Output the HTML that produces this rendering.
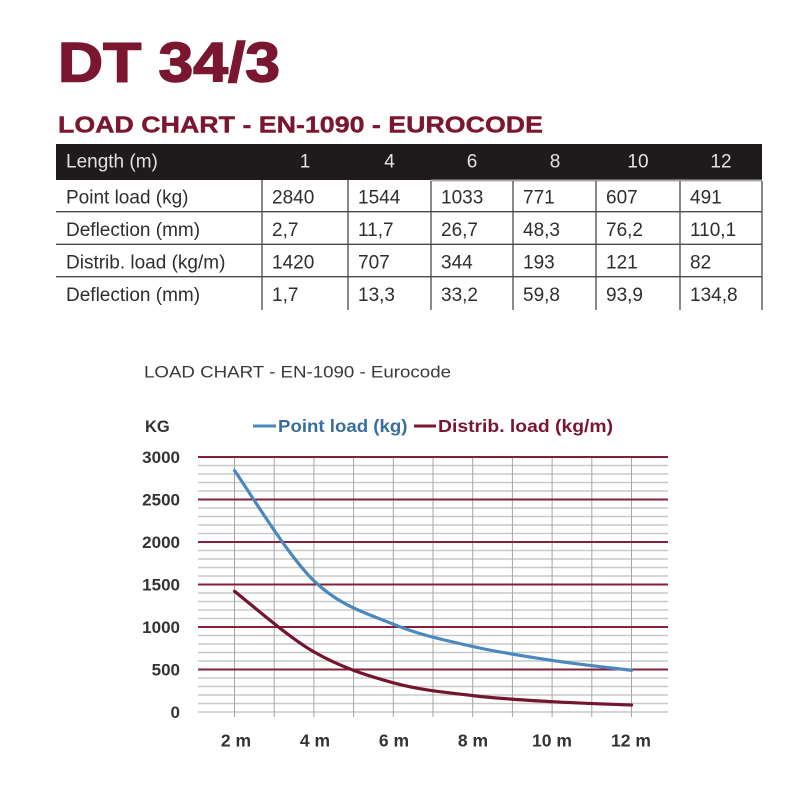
<!DOCTYPE html>
<html>
<head>
<meta charset="utf-8">
<style>
  html, body { margin: 0; padding: 0; background: #ffffff; }
  svg { display: block; }
</style>
</head>
<body>
<svg width="800" height="800" viewBox="0 0 800 800" xmlns="http://www.w3.org/2000/svg">
  <rect x="0" y="0" width="800" height="800" fill="#ffffff"/>

  <!-- Title -->
  <text x="58" y="81.5" font-family="Liberation Sans, sans-serif" font-weight="bold" font-size="56" fill="#7a1630" stroke="#7a1630" stroke-width="1.6" textLength="222" lengthAdjust="spacingAndGlyphs">DT 34/3</text>
  <text x="58" y="132.3" font-family="Liberation Sans, sans-serif" font-weight="bold" font-size="23.5" fill="#7a1630" stroke="#7a1630" stroke-width="0.4" textLength="485" lengthAdjust="spacingAndGlyphs">LOAD CHART - EN-1090 - EUROCODE</text>

  <!-- Table header -->
  <rect x="56" y="144" width="706" height="36" fill="#1f1a1b"/>
  <rect x="431" y="179.5" width="331" height="2" fill="#a8a8a8"/>
  <g font-family="Liberation Sans, sans-serif" font-size="19" fill="#e2e2e2">
    <text x="66" y="167.7">Length (m)</text>
    <text x="305" y="167.7" text-anchor="middle">1</text>
    <text x="389.5" y="167.7" text-anchor="middle">4</text>
    <text x="472" y="167.7" text-anchor="middle">6</text>
    <text x="555" y="167.7" text-anchor="middle">8</text>
    <text x="638" y="167.7" text-anchor="middle">10</text>
    <text x="721" y="167.7" text-anchor="middle">12</text>
  </g>

  <!-- Table lines -->
  <g stroke="#4a4a4a" stroke-width="1.3">
    <line x1="56" y1="211.7" x2="762" y2="211.7"/>
    <line x1="56" y1="244.3" x2="762" y2="244.3"/>
    <line x1="56" y1="276.7" x2="762" y2="276.7"/>
    <line x1="262" y1="180" x2="262" y2="310"/>
    <line x1="348" y1="180" x2="348" y2="310"/>
    <line x1="431" y1="181" x2="431" y2="310"/>
    <line x1="513" y1="181" x2="513" y2="310"/>
    <line x1="596" y1="181" x2="596" y2="310"/>
    <line x1="680" y1="181" x2="680" y2="310"/>
    <line x1="762" y1="181" x2="762" y2="310"/>
  </g>

  <!-- Table body -->
  <g font-family="Liberation Sans, sans-serif" font-size="19" fill="#2e2e2e">
    <text x="66" y="203.3">Point load (kg)</text>
    <text x="272" y="203.3">2840</text>
    <text x="358" y="203.3">1544</text>
    <text x="441" y="203.3">1033</text>
    <text x="523" y="203.3">771</text>
    <text x="606" y="203.3">607</text>
    <text x="690" y="203.3">491</text>

    <text x="66" y="236">Deflection (mm)</text>
    <text x="272" y="236">2,7</text>
    <text x="358" y="236">11,7</text>
    <text x="441" y="236">26,7</text>
    <text x="523" y="236">48,3</text>
    <text x="606" y="236">76,2</text>
    <text x="690" y="236">110,1</text>

    <text x="66" y="268.3">Distrib. load (kg/m)</text>
    <text x="272" y="268.3">1420</text>
    <text x="358" y="268.3">707</text>
    <text x="441" y="268.3">344</text>
    <text x="523" y="268.3">193</text>
    <text x="606" y="268.3">121</text>
    <text x="690" y="268.3">82</text>

    <text x="66" y="301">Deflection (mm)</text>
    <text x="272" y="301">1,7</text>
    <text x="358" y="301">13,3</text>
    <text x="441" y="301">33,2</text>
    <text x="523" y="301">59,8</text>
    <text x="606" y="301">93,9</text>
    <text x="690" y="301">134,8</text>
  </g>

  <!-- Chart title -->
  <text x="144" y="377.3" font-family="Liberation Sans, sans-serif" font-size="17" fill="#3a3a3a" textLength="307" lengthAdjust="spacingAndGlyphs">LOAD CHART - EN-1090 - Eurocode</text>

  <!-- KG and legend -->
  <text x="145" y="432" font-family="Liberation Sans, sans-serif" font-weight="bold" font-size="16.5" fill="#333333">KG</text>
  <line x1="253" y1="426" x2="276" y2="426" stroke="#4a88bd" stroke-width="3"/>
  <text x="278" y="432" font-family="Liberation Sans, sans-serif" font-weight="bold" font-size="17.5" fill="#3a6d9e" textLength="129.5" lengthAdjust="spacingAndGlyphs">Point load (kg)</text>
  <line x1="414" y1="426" x2="436" y2="426" stroke="#7a1630" stroke-width="3"/>
  <text x="438" y="432" font-family="Liberation Sans, sans-serif" font-weight="bold" font-size="17.5" fill="#7a1630" textLength="175" lengthAdjust="spacingAndGlyphs">Distrib. load (kg/m)</text>

  <!-- Minor gridlines -->
  <g stroke="#c9c9c9" stroke-width="1.4">
    <line x1="198" y1="465.5" x2="668" y2="465.5"/>
    <line x1="198" y1="474" x2="668" y2="474"/>
    <line x1="198" y1="482.5" x2="668" y2="482.5"/>
    <line x1="198" y1="491" x2="668" y2="491"/>
    <line x1="198" y1="508" x2="668" y2="508"/>
    <line x1="198" y1="516.5" x2="668" y2="516.5"/>
    <line x1="198" y1="525" x2="668" y2="525"/>
    <line x1="198" y1="533.5" x2="668" y2="533.5"/>
    <line x1="198" y1="550.5" x2="668" y2="550.5"/>
    <line x1="198" y1="559" x2="668" y2="559"/>
    <line x1="198" y1="567.5" x2="668" y2="567.5"/>
    <line x1="198" y1="576" x2="668" y2="576"/>
    <line x1="198" y1="593" x2="668" y2="593"/>
    <line x1="198" y1="601.5" x2="668" y2="601.5"/>
    <line x1="198" y1="610" x2="668" y2="610"/>
    <line x1="198" y1="618.5" x2="668" y2="618.5"/>
    <line x1="198" y1="635.5" x2="668" y2="635.5"/>
    <line x1="198" y1="644" x2="668" y2="644"/>
    <line x1="198" y1="652.5" x2="668" y2="652.5"/>
    <line x1="198" y1="661" x2="668" y2="661"/>
    <line x1="198" y1="678" x2="668" y2="678"/>
    <line x1="198" y1="686.5" x2="668" y2="686.5"/>
    <line x1="198" y1="695" x2="668" y2="695"/>
    <line x1="198" y1="703.5" x2="668" y2="703.5"/>
    <line x1="198" y1="712" x2="668" y2="712"/>
  </g>

  <!-- Vertical gridlines -->
  <g stroke="#a5a5a5" stroke-width="1">
    <line x1="234.5" y1="457" x2="234.5" y2="717"/>
    <line x1="274.2" y1="457" x2="274.2" y2="717"/>
    <line x1="313.9" y1="457" x2="313.9" y2="717"/>
    <line x1="353.6" y1="457" x2="353.6" y2="717"/>
    <line x1="393.3" y1="457" x2="393.3" y2="717"/>
    <line x1="433" y1="457" x2="433" y2="717"/>
    <line x1="472.7" y1="457" x2="472.7" y2="717"/>
    <line x1="512.4" y1="457" x2="512.4" y2="717"/>
    <line x1="552.1" y1="457" x2="552.1" y2="717"/>
    <line x1="591.8" y1="457" x2="591.8" y2="717"/>
    <line x1="631.5" y1="457" x2="631.5" y2="717"/>
  </g>

  <!-- Major gridlines -->
  <g stroke="#86203a" stroke-width="2">
    <line x1="198" y1="457" x2="668" y2="457"/>
    <line x1="198" y1="499.5" x2="668" y2="499.5"/>
    <line x1="198" y1="542" x2="668" y2="542"/>
    <line x1="198" y1="584.5" x2="668" y2="584.5"/>
    <line x1="198" y1="627" x2="668" y2="627"/>
    <line x1="198" y1="669.5" x2="668" y2="669.5"/>
  </g>

  <!-- Y labels -->
  <g font-family="Liberation Sans, sans-serif" font-weight="bold" font-size="17" fill="#333333" text-anchor="end">
    <text x="180" y="463.2">3000</text>
    <text x="180" y="505.7">2500</text>
    <text x="180" y="548.2">2000</text>
    <text x="180" y="590.7">1500</text>
    <text x="180" y="633.2">1000</text>
    <text x="180" y="675.7">500</text>
    <text x="180" y="718.2">0</text>
  </g>

  <!-- X labels -->
  <g font-family="Liberation Sans, sans-serif" font-weight="bold" font-size="17.5" fill="#333333" text-anchor="middle">
    <text x="236" y="746.7">2 m</text>
    <text x="315" y="746.7">4 m</text>
    <text x="394" y="746.7">6 m</text>
    <text x="473" y="746.7">8 m</text>
    <text x="552" y="746.7">10 m</text>
    <text x="631" y="746.7">12 m</text>
  </g>

  <!-- Series -->
  <path d="M234.5,470.6 C247.7,489 287.4,555.2 313.9,580.8 C340.4,606.4 366.8,613.25 393.3,624.2 C419.8,635.15 446.2,640.5 472.7,646.5 C499.2,652.5 525.6,656.4 552.1,660.4 C578.6,664.4 618.3,668.65 631.5,670.3" fill="none" stroke="#4a88bd" stroke-width="3.2" stroke-linecap="round"/>
  <path d="M234.5,591.3 C247.7,601.4 287.4,636.65 313.9,651.9 C340.4,667.15 366.8,675.5 393.3,682.8 C419.8,690.1 446.2,692.45 472.7,695.6 C499.2,698.75 525.6,700.1 552.1,701.7 C578.6,703.3 618.3,704.45 631.5,705" fill="none" stroke="#741530" stroke-width="3.2" stroke-linecap="round"/>
</svg>
</body>
</html>
